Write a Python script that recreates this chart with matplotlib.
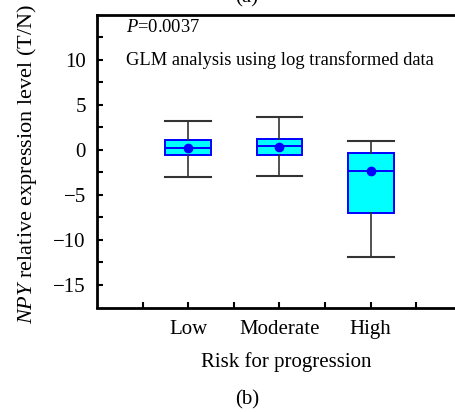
import matplotlib
matplotlib.use("Agg")
import matplotlib.pyplot as plt

plt.rcParams['font.family'] = 'Liberation Serif'
plt.rcParams['mathtext.fontset'] = 'custom'
plt.rcParams['mathtext.rm'] = 'Liberation Serif'
plt.rcParams['mathtext.it'] = 'Liberation Serif:italic'

# --- data
groups = ['Low', 'Moderate', 'High']
whisker_hi = [3.26, 3.7, 1.04]
q3 = [1.15, 1.26, -0.37]
median = [0.22, 0.44, -2.33]
mean = [0.2, 0.37, -2.3]
q1 = [-0.56, -0.56, -6.96]
whisker_lo = [-2.96, -2.85, -11.93]

stats = []
for i, g in enumerate(groups):
    stats.append(dict(label=g, whishi=whisker_hi[i], q3=q3[i], med=median[i],
                      mean=mean[i], q1=q1[i], whislo=whisker_lo[i], fliers=[]))

W, H = 456, 412
fig = plt.figure(figsize=(W / 100, H / 100), dpi=100)
ax = fig.add_axes([97 / W, 1 - 307.5 / H, 365 / W, 292.5 / H])

ax.bxp(stats, positions=[1, 2, 3], widths=0.5, patch_artist=True, showmeans=True,
       boxprops=dict(facecolor='#00ffff', edgecolor='#0000ff', linewidth=1.4),
       medianprops=dict(color='#0000ff', linewidth=1.4),
       meanprops=dict(marker='o', markerfacecolor='#0000ff', markeredgecolor='#0000ff', markersize=6),
       whiskerprops=dict(color='#333333', linewidth=1.2),
       capprops=dict(color='#333333', linewidth=1.5), capwidths=0.5)

ax.set_xlim(0, 4)
ax.set_ylim(-17.5, 15)
ax.set_xticks([1, 2, 3])
ax.set_xticklabels(groups)
ax.set_xticks([0.5, 1.5, 2.5, 3.5], minor=True)
ax.set_yticks([-15, -10, -5, 0, 5, 10])
ax.set_yticklabels(['\u221215', '\u221210', '\u22125', '0', '5', '10'])
ax.set_yticks([-12.5, -7.5, -2.5, 2.5, 7.5, 12.5], minor=True)
ax.tick_params(which='both', direction='in', length=4, width=1.5, labelsize=15)
ax.tick_params(axis='y', pad=8)
ax.tick_params(axis='x', pad=9)
for s in ['left', 'bottom', 'top']:
    ax.spines[s].set_linewidth(2)
ax.spines['right'].set_visible(False)

fig.text(286 / W, 1 - 362 / H, 'Risk for progression', fontsize=15, ha='center', va='center')
fig.text(27 / W, 1 - 164 / H, r'$NPY$ relative expression level (T/N)', fontsize=16,
         rotation=90, ha='center', va='center')

fig.text(126 / W, 1 - 27 / H, r'$P$=0.0037', fontsize=13.3, va='center')
fig.text(126 / W, 1 - 60 / H, 'GLM analysis using log transformed data', fontsize=13.3,
         va='center')

fig.text(247 / W, 1.005, '(a)', ha='center', va='center', fontsize=15)
fig.text(247 / W, 1 - 400 / H, '(b)', ha='center', va='center', fontsize=15)

fig.savefig('out.png', dpi=100)
